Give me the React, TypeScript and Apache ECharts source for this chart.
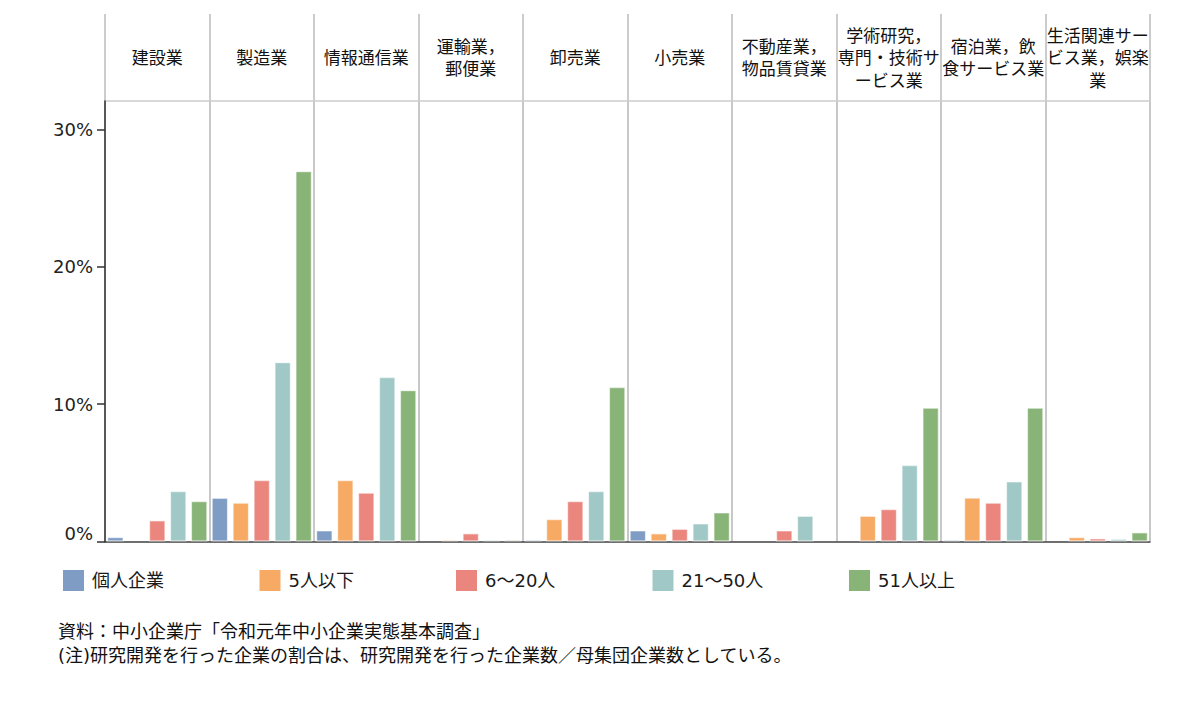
import React, { useEffect, useRef } from "react";
import * as echarts from "echarts";

const categories = [
  "建設業",
  "製造業",
  "情報通信業",
  "運輸業，\n郵便業",
  "卸売業",
  "小売業",
  "不動産業，\n物品賃貸業",
  "学術研究，\n専門・技術サ\nービス業",
  "宿泊業，飲\n食サービス業",
  "生活関連サー\nビス業，娯楽\n業",
];

const seriesNames = ["個人企業", "5人以下", "6～20人", "21～50人", "51人以上"];

const kojin = [0.33, 3.19, 0.81, null, 0.12, 0.81, null, null, 0.12, null];
const upTo5 = [null, 2.83, 4.48, 0.12, 1.64, 0.6, null, 1.88, 3.2, 0.33];
const from6to20 = [1.54, 4.48, 3.56, 0.6, 2.95, 0.93, 0.81, 2.37, 2.83, 0.23];
const from21to50 = [3.68, 13.07, 11.98, 0.12, 3.68, 1.32, 1.88, 5.57, 4.38, 0.2];
const over51 = [2.95, 26.98, 11.03, 0.12, 11.25, 2.12, null, 9.75, 9.75, 0.67];

const yTicks = [0, 10, 20, 30];

const notes = [
  "資料：中小企業庁「令和元年中小企業実態基本調査」",
  "(注)研究開発を行った企業の割合は、研究開発を行った企業数／母集団企業数としている。",
];

const colors = ["#7f9cc4", "#f6aa64", "#ea867e", "#a0c8c6", "#89b477"];

const FONT = "'DejaVu Sans', 'Noto Sans CJK JP', sans-serif";

export default function App() {
  const ref = useRef<HTMLDivElement>(null);

  useEffect(() => {
    if (!ref.current) return;
    const chart = echarts.init(ref.current, null, { renderer: "svg" });
    const data = [kojin, upTo5, from6to20, from21to50, over51];

    const option: any = {
      animation: false,
      backgroundColor: "#ffffff",
      grid: { left: 105, right: 50, top: 101, bottom: 169.5, containLabel: false },
      legend: seriesNames.map((name, i) => ({
        left: 58 + i * 196.5,
        top: 565,
        itemWidth: 21,
        itemHeight: 21,
        icon: "rect",
        itemStyle: { borderWidth: 0 },
        textStyle: { fontSize: 18, fontFamily: FONT, color: "#1a1a1a", padding: [0, 0, 0, 3] },
        data: [name],
      })),
      xAxis: [
        {
          type: "category",
          data: categories,
          position: "bottom",
          axisLine: { show: true, lineStyle: { color: "#404040", width: 1.5 } },
          axisTick: { show: false },
          axisLabel: { show: false },
          splitLine: { show: true, lineStyle: { color: "#c8c8c8", width: 2 } },
        },
        {
          type: "category",
          data: categories,
          position: "top",
          axisLine: { show: true, lineStyle: { color: "#cccccc", width: 1.5 } },
          axisTick: { show: true, length: 87, lineStyle: { color: "#cccccc", width: 2 } },
          axisLabel: {
            show: true,
            interval: 0,
            margin: 43,
            verticalAlign: "middle",
            align: "center",
            fontSize: 17,
            lineHeight: 22.5,
            fontFamily: FONT,
            color: "#111111",
          },
          splitLine: { show: false },
        },
      ],
      yAxis: {
        type: "value",
        min: 0,
        max: 32.08,
        interval: 10,
        z: 5,
        axisLine: { show: true, lineStyle: { color: "#333333", width: 1.5 } },
        axisTick: {
          show: true,
          length: 8,
          customValues: yTicks,
          lineStyle: { color: "#333333", width: 1.5 },
        },
        axisLabel: {
          show: true,
          margin: 12,
          customValues: yTicks,
          fontSize: 18,
          fontFamily: FONT,
          color: "#222222",
          formatter: (v: number) => (v === 0 ? "{z|0%}" : v + "%"),
          rich: {
            z: {
              fontSize: 18,
              fontFamily: FONT,
              color: "#222222",
              padding: [0, 0, 16, 0],
            },
          },
        },
        splitLine: { show: false },
      },
      series: seriesNames.map((name, i) => ({
        name,
        type: "bar",
        xAxisIndex: 0,
        data: data[i],
        barWidth: 16.5,
        barGap: "27%",
        itemStyle: {
          color: colors[i],
          borderColor: "rgba(255,255,255,0.55)",
          borderWidth: 1.2,
        },
      })),
      graphic: notes.map((t, i) => ({
        type: "text",
        left: 58,
        top: 622 + i * 24.5,
        style: {
          text: t,
          fontSize: 18,
          fontFamily: FONT,
          fill: "#111111",
        },
      })),
    };

    chart.setOption(option);
    return () => chart.dispose();
  }, []);

  return (
    <div
      ref={ref}
      style={{ position: "fixed", left: 0, top: 0, width: 1200, height: 711 }}
    />
  );
}
